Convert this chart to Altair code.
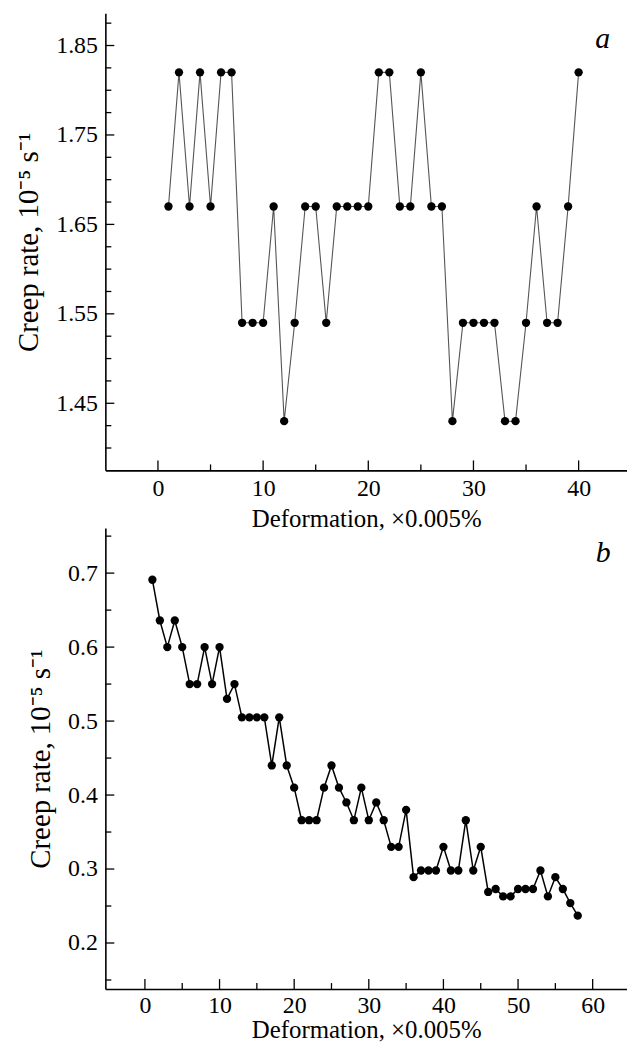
import altair as alt
import pandas as pd

# ---------------- data ----------------
a_x = list(range(1, 41))
a_y = [1.67, 1.82, 1.67, 1.82, 1.67, 1.82, 1.82, 1.54, 1.54, 1.54,
       1.67, 1.43, 1.54, 1.67, 1.67, 1.54, 1.67, 1.67, 1.67, 1.67,
       1.82, 1.82, 1.67, 1.67, 1.82, 1.67, 1.67, 1.43, 1.54, 1.54,
       1.54, 1.54, 1.43, 1.43, 1.54, 1.67, 1.54, 1.54, 1.67, 1.82]

b_x = list(range(1, 59))
b_y = [0.691, 0.636, 0.600, 0.636, 0.600, 0.550, 0.550, 0.600, 0.550, 0.600,
       0.530, 0.550, 0.505, 0.505, 0.505, 0.505, 0.440, 0.505, 0.440, 0.410,
       0.366, 0.366, 0.366, 0.410, 0.440, 0.410, 0.390, 0.366, 0.410, 0.366,
       0.390, 0.366, 0.330, 0.330, 0.380, 0.289, 0.298, 0.298, 0.298, 0.330,
       0.298, 0.298, 0.366, 0.298, 0.330, 0.269, 0.273, 0.263, 0.263, 0.273,
       0.273, 0.273, 0.298, 0.263, 0.289, 0.273, 0.254, 0.237]

a_xmajor = [0, 10, 20, 30, 40]
a_xminor = [5, 15, 25, 35]
a_ymajor = [1.45, 1.55, 1.65, 1.75, 1.85]
a_yminor = [1.40, 1.425, 1.475, 1.50, 1.525, 1.575, 1.60, 1.625, 1.675,
            1.70, 1.725, 1.775, 1.80, 1.825, 1.875]

b_xmajor = [0, 10, 20, 30, 40, 50, 60]
b_xminor = [5, 15, 25, 35, 45, 55]
b_ymajor = [0.2, 0.3, 0.4, 0.5, 0.6, 0.7]
b_yminor = [0.15, 0.25, 0.35, 0.45, 0.55, 0.65, 0.75]

a_xdom = [-5, 44.6]
a_ydom = [1.375, 1.886]
b_xdom = [-5.3, 64.6]
b_ydom = [0.1378, 0.761]

a_tag = {"x": [42.3], "y": [1.857], "t": ["a"]}
b_tag = {"x": [61.4], "y": [0.727], "t": ["b"]}

XTITLE = "Deformation, \u00d70.005%"
YTITLE = "Creep rate, 10\u207b\u2075 s\u207b\u00b9"

FONT = "Liberation Serif"
W = 525


def panel(xs, ys, xdom, ydom, xmaj, xmin, ymaj, ymin, tag, yfmt, h,
          line_color, line_w, lpad, tpad):
    df = pd.DataFrame({"x": xs, "y": ys})
    xsc = alt.Scale(domain=xdom, nice=False, zero=False)
    ysc = alt.Scale(domain=ydom, nice=False, zero=False)
    xaxis = alt.Axis(values=xmaj, ticks=False, grid=False, title=XTITLE,
                     labelPadding=lpad, titlePadding=tpad, format="d", titleFontSize=25)
    yaxis = alt.Axis(values=ymaj, ticks=False, grid=False, title=YTITLE,
                     labelPadding=8, titlePadding=12, format=yfmt, titleFontSize=29)
    X = lambda: alt.X("x:Q", scale=xsc, axis=xaxis)
    Y = lambda: alt.Y("y:Q", scale=ysc, axis=yaxis)
    base = alt.Chart(df)
    line = base.mark_line(color=line_color, strokeWidth=line_w).encode(x=X(), y=Y())
    pts = base.mark_circle(color="black", size=70, opacity=1).encode(x=X(), y=Y())
    ytm = alt.Chart(pd.DataFrame({"y": ymaj})).mark_rule(color="black", strokeWidth=1.3).encode(
        y=Y(), x=alt.value(0), x2=alt.value(9))
    ytn = alt.Chart(pd.DataFrame({"y": ymin})).mark_rule(color="black", strokeWidth=1.3).encode(
        y=Y(), x=alt.value(0), x2=alt.value(6))
    xtm = alt.Chart(pd.DataFrame({"x": xmaj})).mark_rule(color="black", strokeWidth=1.3).encode(
        x=X(), y=alt.value(h), y2=alt.value(h - 10))
    xtn = alt.Chart(pd.DataFrame({"x": xmin})).mark_rule(color="black", strokeWidth=1.3).encode(
        x=X(), y=alt.value(h), y2=alt.value(h - 6))
    lab = alt.Chart(pd.DataFrame(tag)).mark_text(
        font=FONT, fontSize=30, fontStyle="italic", color="black").encode(
        x=X(), y=Y(), text="t:N")
    return alt.layer(line, pts, ytm, ytn, xtm, xtn, lab).properties(width=W, height=h)


pa = panel(a_x, a_y, a_xdom, a_ydom, a_xmajor, a_xminor, a_ymajor, a_yminor,
           a_tag, ".2f", 460, "#555555", 1.1, 6, 6)
pb = panel(b_x, b_y, b_xdom, b_ydom, b_xmajor, b_xminor, b_ymajor, b_yminor,
           b_tag, ".1f", 464, "black", 1.5, 5, 0)

chart = alt.vconcat(pa, pb, spacing=58, bounds="flush").properties(
    padding={"left": 7, "top": 2, "right": 0, "bottom": 0}
).configure_view(stroke=None).configure_axis(
    domainColor="black", domainWidth=1.6, labelFont=FONT, titleFont=FONT,
    labelFontSize=24, labelColor="black", titleColor="black",
    titleFontWeight="normal"
)

chart.save("out.html", embed_options={"renderer": "svg", "actions": False})
